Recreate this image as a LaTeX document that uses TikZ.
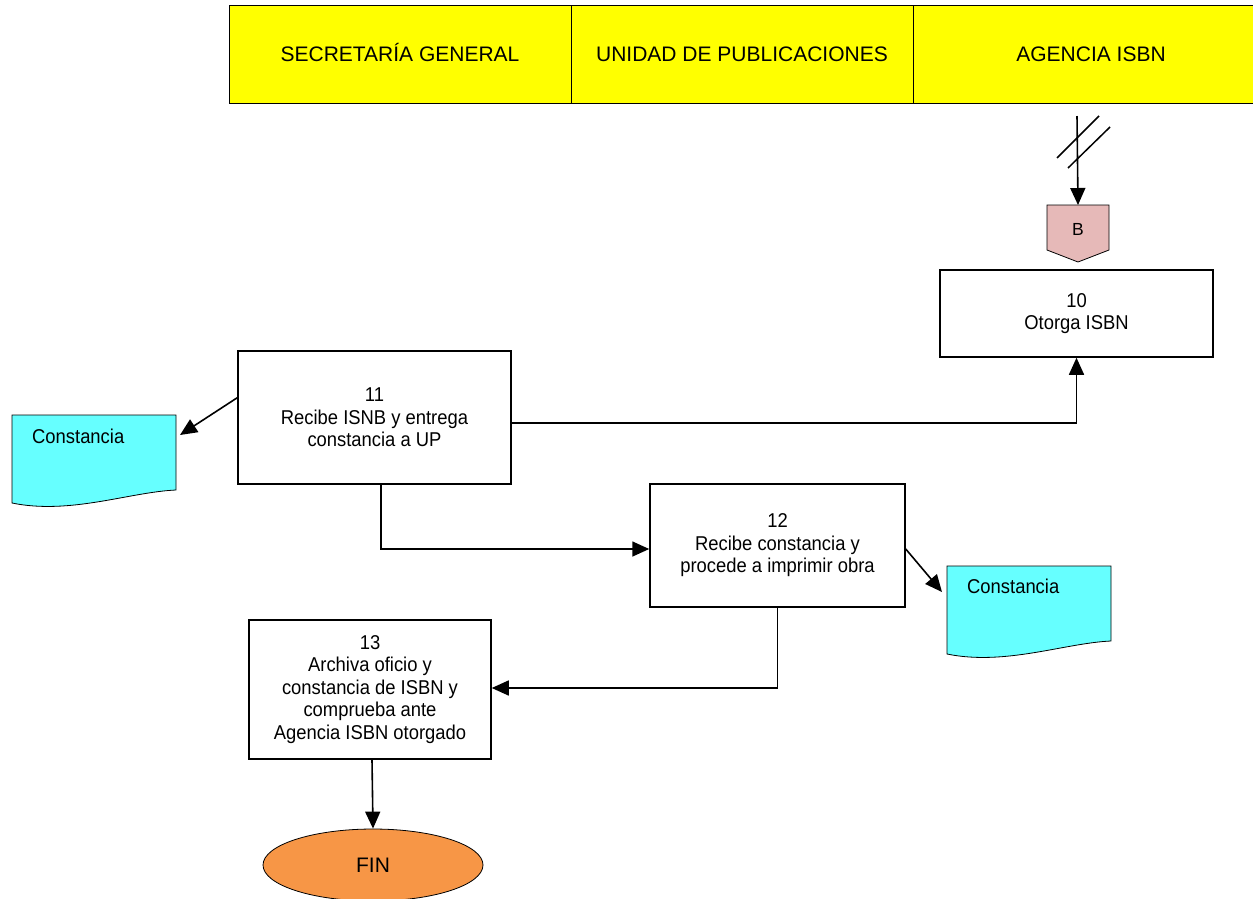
\documentclass[tikz,border=0pt]{standalone}
\usepackage{fontspec}
\setmainfont{Liberation Sans}
\newfontfamily\boxfont{Liberation Sans}[FakeStretch=0.92]
\usetikzlibrary{arrows.meta,shapes.geometric,calc}
\definecolor{hdryellow}{HTML}{FFFF00}
\definecolor{doccyan}{HTML}{66FFFF}
\definecolor{bpink}{HTML}{E6B9B8}
\definecolor{finorange}{HTML}{F79646}
\begin{document}
\begin{tikzpicture}[x=1pt,y=-1pt,
  hdr/.style={draw=black,line width=1pt,fill=hdryellow,minimum height=98pt,inner sep=0pt,
    text height=15pt,text depth=0pt,font=\fontsize{21}{25}\selectfont},
  stepbox/.style={draw=black,line width=1.5pt,fill=white,inner sep=0pt,align=center,
    font=\boxfont\fontsize{20}{22.5}\selectfont},
  doctext/.style={inner sep=0pt,anchor=base west,font=\boxfont\fontsize{20}{22.5}\selectfont},
  docshape/.style={draw=black,line width=0.8pt,fill=doccyan},
  arr/.style={draw=black,line width=1.6pt,-{Triangle[length=17pt,width=15pt]}},
  plain/.style={draw=black,line width=1.5pt}]
\useasboundingbox (0,0) rectangle (1253,898);

% header
\node[hdr,minimum width=342pt] (h1) at (400,54) {SECRETARÍA GENERAL};
\node[hdr,minimum width=342pt] (h2) at (742,54) {UNIDAD DE PUBLICACIONES};
\node[hdr,minimum width=356pt] (h3) at (1091,54) {AGENCIA ISBN};

% incoming connector with break mark
\coordinate (topin) at (1077,116);
\coordinate (Btop) at (1078,205);
\draw[plain] (1057,158) -- (1099,116);
\draw[plain] (1068,168) -- (1110,127);
\draw[arr] (topin) -- (Btop);

% off-page connector B
\filldraw[draw=black,line width=0.8pt,fill=bpink]
  ($(Btop)+(-31,0)$) -- ($(Btop)+(31,0)$) -- ++(0,45) -- ($(Btop)+(0,57)$) -- ($(Btop)+(-31,45)$) -- cycle;
\node[inner sep=0pt,font=\fontsize{17.5}{19}\selectfont] (B) at ($(Btop)+(0,24)$) {B};

% process boxes
\node[stepbox,minimum width=273pt,minimum height=87pt] (b10) at (1076.5,313.5) {10\\Otorga ISBN};
\node[stepbox,minimum width=273pt,minimum height=133pt] (b11) at (374.5,417.5) {11\\Recibe ISNB y entrega\\constancia a UP};
\node[stepbox,minimum width=255pt,minimum height=123pt] (b12) at (777.5,545.5) {12\\Recibe constancia y\\procede a imprimir obra};
\node[stepbox,minimum width=242pt,minimum height=139pt] (b13) at (370,689.5) {13\\Archiva oficio y\\constancia de ISBN y\\comprueba ante\\Agencia ISBN otorgado};

% documents
\coordinate (d1) at (12,415);
\filldraw[docshape] (d1) -- ++(164,0) -- ++(0,75) .. controls +(-46,2) and +(58,12) .. ($(d1)+(0,88)$) -- cycle;
\node[doctext] (d1t) at (32,443) {Constancia};
\coordinate (d1a) at (180,435);

\coordinate (d2) at (947,566);
\filldraw[docshape] (d2) -- ++(164,0) -- ++(0,75) .. controls +(-46,2) and +(58,12) .. ($(d2)+(0,88)$) -- cycle;
\node[doctext] (d2t) at (967,593) {Constancia};
\coordinate (d2a) at (942,592);

% end
\node[ellipse,draw=black,line width=0.8pt,fill=finorange,minimum width=220pt,minimum height=72pt,inner sep=0pt,
  font=\fontsize{21}{25}\selectfont] (fin) at (373,865) {FIN};

% connectors
\draw[arr] (b11.east |- 0,423) -| (b10.south);
\draw[arr] ($(b11.north west)!0.353!(b11.south west)$) -- (d1a);
\draw[arr] ($(b11.south)+(6.5,0)$) |- ($(b12.west)+(0,3.5)$);
\draw[arr] ($(b12.east)+(0,3.5)$) -- (d2a);
\draw[arr] (b12.south) |- ($(b13.east)+(0,-1.5)$);
\draw[arr] ($(b13.south)+(2,0)$) -- (fin.north);
\end{tikzpicture}
\end{document}
